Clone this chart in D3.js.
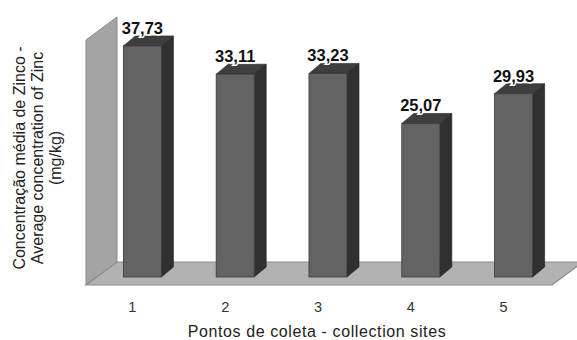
<!DOCTYPE html>
<html>
<head>
<meta charset="utf-8">
<script src="https://cdn.jsdelivr.net/npm/d3@7"></script>
<style>
  body { margin: 0; background: #fff; }
  text { font-family: Arial, "Liberation Sans", sans-serif; }
</style>
</head>
<body>
<script>
// Data
const sites = ["1", "2", "3", "4", "5"];
const zinc = [37.73, 33.11, 33.23, 25.07, 29.93];
const yTitle = ["Concentração média de Zinco -", "Average concentration of Zinc", "(mg/kg)"];
const xTitle = "Pontos de coleta - collection sites";

const width = 577, height = 340;
const svg = d3.select("body").append("svg")
  .attr("width", width).attr("height", height);

// Scales
const xScale = d3.scaleBand()
  .domain(sites)
  .range([96, 560])
  .paddingInner(0.59)
  .paddingOuter(0.295);

const yScale = d3.scaleLinear()
  .domain([0, 40])
  .range([285, 40]);

const fmt = d3.formatLocale({ decimal: ",", thousands: ".", grouping: [3], currency: ["", ""] }).format(".2f");

// 3D depth of wall / floor, and of the bars
const deep = { dx: 31, dy: -23 };
const barOff = { dx: 0, dy: -8 };
const barDepth = { dx: 12, dy: -10 };
const floorLeft = 86, floorRight = 552;

const pts = (a) => a.map((p) => p.join(",")).join(" ");

// Back wall (left side panel)
svg.append("polygon")
  .attr("points", pts([
    [floorLeft, yScale(0)],
    [floorLeft, yScale(40)],
    [floorLeft + deep.dx, yScale(40) + deep.dy],
    [floorLeft + deep.dx, yScale(0) + deep.dy],
  ]))
  .attr("fill", "#a4a4a4")
  .attr("stroke", "#8a8a8a")
  .attr("stroke-width", 1);

// Floor
svg.append("polygon")
  .attr("points", pts([
    [floorLeft, yScale(0)],
    [floorRight, yScale(0)],
    [floorRight + deep.dx, yScale(0) + deep.dy],
    [floorLeft + deep.dx, yScale(0) + deep.dy],
  ]))
  .attr("fill", "#b2b2b2")
  .attr("stroke", "#8c8c8c")
  .attr("stroke-width", 1.2);

// Bars
const bars = svg.selectAll("g.bar")
  .data(sites.map((s, i) => ({ site: s, value: zinc[i] })))
  .enter().append("g").attr("class", "bar");

bars.each(function (d) {
  const g = d3.select(this);
  const x0 = xScale(d.site) + barOff.dx;
  const x1 = x0 + xScale.bandwidth();
  const yT = yScale(d.value) + barOff.dy;
  const yB = yScale(0) + barOff.dy;
  // side face
  g.append("polygon")
    .attr("points", pts([[x1, yB], [x1, yT], [x1 + barDepth.dx, yT + barDepth.dy], [x1 + barDepth.dx, yB + barDepth.dy]]))
    .attr("fill", "#303030").attr("stroke", "#222").attr("stroke-width", 0.6);
  // top face
  g.append("polygon")
    .attr("points", pts([[x0, yT], [x1, yT], [x1 + barDepth.dx, yT + barDepth.dy], [x0 + barDepth.dx, yT + barDepth.dy]]))
    .attr("fill", "#3e3e3e").attr("stroke", "#222").attr("stroke-width", 0.6);
  // front face
  g.append("rect")
    .attr("x", x0).attr("y", yT)
    .attr("width", xScale.bandwidth()).attr("height", yB - yT)
    .attr("fill", "#636363").attr("stroke", "#3a3a3a").attr("stroke-width", 0.8);
});

// Value labels
bars.append("text")
  .attr("x", (d) => xScale(d.site) + xScale.bandwidth() / 2)
  .attr("y", (d) => yScale(d.value) + barOff.dy + barDepth.dy - 2)
  .attr("text-anchor", "middle")
  .attr("font-size", 16.5)
  .attr("font-weight", "bold")
  .attr("fill", "#111")
  .attr("stroke", "#fff")
  .attr("stroke-width", 3)
  .attr("paint-order", "stroke")
  .text((d) => fmt(d.value));

// Category labels (axis, no line)
const xAxis = d3.axisBottom(xScale).tickSize(0).tickPadding(0);
svg.append("g")
  .attr("transform", `translate(-10, ${yScale(0) + 17})`)
  .call(xAxis)
  .call((g) => g.select(".domain").remove())
  .selectAll("text")
  .attr("font-size", 14.5)
  .attr("font-family", "'Liberation Sans', Arial, sans-serif")
  .attr("fill", "#333");

// Axis titles
svg.append("text")
  .attr("x", 317).attr("y", 337)
  .attr("text-anchor", "middle")
  .attr("font-size", 16)
  .attr("letter-spacing", 0.6)
  .attr("fill", "#222")
  .text(xTitle);

svg.append("g")
  .attr("transform", "translate(25, 158) rotate(-90)")
  .selectAll("text")
  .data(yTitle)
  .enter().append("text")
  .attr("x", 0)
  .attr("y", (d, i) => i * 18)
  .attr("text-anchor", "middle")
  .attr("font-size", 16)
  .attr("fill", "#222")
  .text((d) => d);
</script>
</body>
</html>
